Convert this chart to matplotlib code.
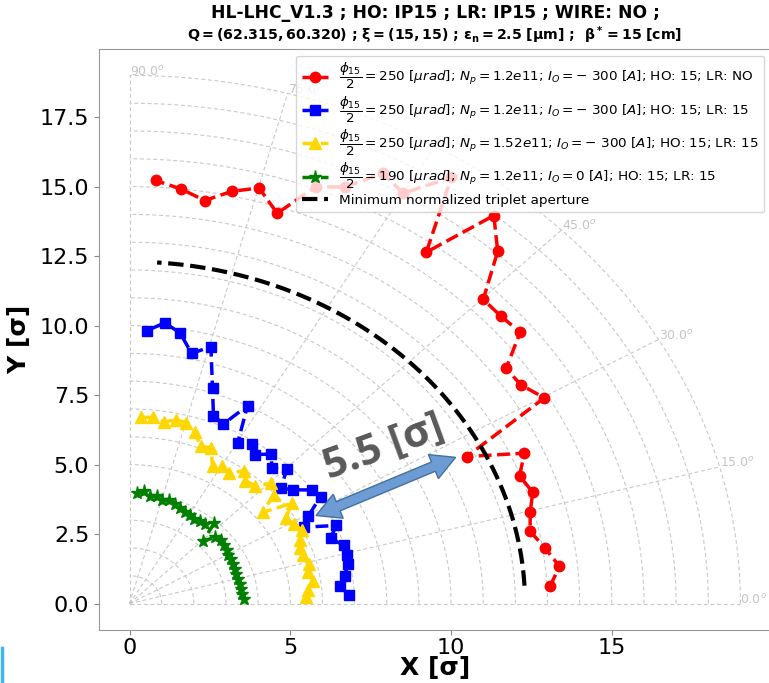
import numpy as np
import matplotlib
matplotlib.use("Agg")
import matplotlib.pyplot as plt
from matplotlib.patches import Polygon
from matplotlib.lines import Line2D

# ---------------- data: normalized DA contours, (x, y) in sigma ----------------
red_x = [13.08, 13.37, 12.92, 12.46, 12.46, 12.54, 12.13, 12.28, 10.49, 12.90,
         12.17, 11.71, 12.15, 11.55, 11.00, 11.45, 11.33, 9.23, 10.01, 8.51,
         7.88, 6.69, 5.80, 4.59, 4.03, 3.18, 2.34, 1.59, 0.81]
red_y = [0.62, 1.34, 2.00, 2.60, 3.28, 4.00, 4.60, 5.41, 5.29, 7.40,
         7.87, 8.46, 9.76, 10.34, 10.94, 12.67, 13.96, 12.64, 15.33, 14.76,
         15.48, 14.98, 15.00, 14.04, 14.95, 14.83, 14.50, 14.92, 15.22]

blue_x = [6.81, 6.53, 6.69, 6.79, 6.76, 6.66, 6.25, 6.43, 5.44, 5.56,
          5.94, 5.67, 5.09, 4.71, 4.89, 4.43, 4.40, 3.91, 3.80, 3.36,
          3.67, 2.92, 2.61, 2.58, 2.53, 1.93, 1.57, 1.09, 0.55]
blue_y = [0.32, 0.65, 1.01, 1.43, 1.73, 2.09, 2.36, 2.81, 2.75, 3.15,
          3.85, 4.09, 4.09, 4.16, 4.83, 4.88, 5.38, 5.36, 5.74, 5.77,
          7.12, 6.46, 6.76, 7.76, 9.24, 9.00, 9.74, 10.10, 9.82]

yellow_x = [5.49, 5.56, 5.70, 5.56, 5.59, 5.38, 5.30, 5.31, 5.36, 5.10,
            4.87, 5.04, 4.14, 4.48, 4.40, 3.91, 3.59, 3.55, 3.10, 2.89,
            2.58, 2.53, 2.21, 2.03, 1.77, 1.43, 1.07, 0.73, 0.36]
yellow_y = [0.25, 0.50, 0.83, 1.13, 1.43, 1.73, 2.00, 2.27, 2.65, 2.87,
            3.08, 3.61, 3.28, 3.92, 4.33, 4.24, 4.42, 4.78, 4.69, 4.96,
            4.96, 5.60, 5.66, 6.16, 6.50, 6.62, 6.52, 6.70, 6.70]

green_x = [3.57, 3.50, 3.46, 3.43, 3.37, 3.32, 3.27, 3.22, 3.17, 3.06,
           3.03, 2.94, 2.84, 2.67, 2.29, 2.63, 2.36, 2.18, 2.01, 1.87,
           1.71, 1.56, 1.40, 1.23, 1.02, 0.84, 0.63, 0.45, 0.23]
green_y = [0.17, 0.35, 0.53, 0.71, 0.88, 1.06, 1.24, 1.41, 1.60, 1.74,
           1.94, 2.11, 2.28, 2.38, 2.26, 2.89, 2.88, 2.97, 3.06, 3.19,
           3.31, 3.45, 3.59, 3.73, 3.72, 3.86, 3.87, 4.05, 3.97]

series_labels = [
    r'$\dfrac{\phi_{15}}{2} = 250\ [\mu rad]$; $N_p = 1.2e11$; $I_O = -\ 300\ [A]$; HO: 15; LR: NO',
    r'$\dfrac{\phi_{15}}{2} = 250\ [\mu rad]$; $N_p = 1.2e11$; $I_O = -\ 300\ [A]$; HO: 15; LR: 15',
    r'$\dfrac{\phi_{15}}{2} = 250\ [\mu rad]$; $N_p = 1.52e11$; $I_O = -\ 300\ [A]$; HO: 15; LR: 15',
    r'$\dfrac{\phi_{15}}{2} = 190\ [\mu rad]$; $N_p = 1.2e11$; $I_O = 0\ [A]$; HO: 15; LR: 15',
]
aperture_label = 'Minimum normalized triplet aperture'

# minimum triplet aperture (sigma) and the angular span it is drawn over (deg)
aperture_sigma = 12.3
aperture_angle_min, aperture_angle_max = 3.0, 86.0

# polar reference grid
grid_radii = list(range(1, 20))
grid_angles = [0, 15, 30, 45, 60, 75, 90]

x_ticks = [0, 5, 10, 15]
y_ticks = [0.0, 2.5, 5.0, 7.5, 10.0, 12.5, 15.0, 17.5]

title_line1 = 'HL-LHC_V1.3 ; HO: IP15 ; LR: IP15 ; WIRE: NO ;'
title_line2 = (r'$\mathbf{Q = (62.315, 60.320)}$ ; $\mathbf{ξ = (15, 15)}$ ; '
               r'$\mathbf{ε_n = 2.5\ [μm]}$ ;  $\mathbf{β^* = 15\ [cm]}$')

gap_text = '5.5 [σ]'
gap_from = (5.80, 3.17)
gap_to = (10.14, 5.26)

# ---------------- figure ----------------
W, H = 769, 683
fig = plt.figure(figsize=(W / 100, H / 100), dpi=100)
ax = fig.add_axes([99 / W, 53 / H, 672 / W, 581 / H])

rmax = grid_radii[-1]
grid_kw = dict(color='#c8c8c8', lw=0.8, ls=(0, (3.5, 2.5)), zorder=1)
t = np.linspace(0, np.pi / 2, 300)
for r in grid_radii:
    ax.plot(r * np.cos(t), r * np.sin(t), **grid_kw)
for a in grid_angles:
    ar = np.deg2rad(a)
    ax.plot([0, rmax * np.cos(ar)], [0, rmax * np.sin(ar)], **grid_kw)
    ax.text(rmax * np.cos(ar), rmax * np.sin(ar), f'{a:.1f}$^o$', color='#c4c4c4',
            fontsize=9, ha='left', va='baseline', zorder=1)

ax.plot(red_x, red_y, ls='--', color='red', marker='o', ms=7.5, lw=2.5,
        label=series_labels[0], zorder=3)
ax.plot(blue_x, blue_y, ls='--', color='blue', marker='s', ms=7, lw=2.5,
        label=series_labels[1], zorder=3)
ax.plot(yellow_x, yellow_y, ls='--', color='gold', marker='^', ms=8, lw=2.5,
        label=series_labels[2], zorder=3)
ax.plot(green_x, green_y, ls='--', color='green', marker='*', ms=9.5, lw=2.5,
        label=series_labels[3], zorder=3)

ta = np.deg2rad(np.linspace(aperture_angle_min, aperture_angle_max, 200))
ax.plot(aperture_sigma * np.cos(ta), aperture_sigma * np.sin(ta), ls='--',
        color='black', lw=3, label=aperture_label, zorder=3)

ax.set_xlim(-0.95, 19.95)
ax.set_ylim(-0.95, 19.95)
ax.set_xticks(x_ticks)
ax.set_yticks(y_ticks)
ax.set_yticklabels([f'{v:.1f}' for v in y_ticks])
ax.tick_params(labelsize=16, color='#888888')
ax.tick_params(axis='x', pad=2)
for s in ax.spines.values():
    s.set_color('#999999')

ax.set_xlabel('X [σ]', fontsize=18, fontweight='bold', labelpad=-1)
ax.set_ylabel('Y [σ]', fontsize=18, fontweight='bold', labelpad=6)

# two-line heading: run configuration, then beam parameters
cx = (99 + 771) / 2 / W
fig.text(cx, 1 - 13 / H, title_line1, fontsize=12.3, fontweight='bold',
         ha='center', va='center')
fig.text(cx, 1 - 35 / H, title_line2, fontsize=10.2, fontweight='bold',
         ha='center', va='center')

leg = ax.legend(loc='upper right', fontsize=9.7, framealpha=0.8, labelspacing=0.22)
leg.set_zorder(5)

# double-headed arrow marking the gap, built in pixel space
fig.canvas.draw()
p0 = ax.transData.transform(gap_from)
p1 = ax.transData.transform(gap_to)
d = p1 - p0
L = np.hypot(*d)
u = d / L
n = np.array([-u[1], u[0]])
sw, hw, hl = 5.0, 13.0, 24.0
pts = [p0,
       p0 + u * hl + n * hw, p0 + u * hl + n * sw,
       p1 - u * hl + n * sw, p1 - u * hl + n * hw,
       p1,
       p1 - u * hl - n * hw, p1 - u * hl - n * sw,
       p0 + u * hl - n * sw, p0 + u * hl - n * hw]
pts = ax.transData.inverted().transform(np.array(pts))
ax.add_patch(Polygon(pts, closed=True, facecolor='#6d9bd3', edgecolor='#41719c',
                     lw=1.0, zorder=4))

ax.text(7.92, 5.61, gap_text, rotation=20, rotation_mode='anchor', ha='center',
        va='center', fontsize=30, fontweight='bold', family='Open Sans',
        color='#595959', zorder=4)

fig.add_artist(Line2D([1.5 / W, 1.5 / W], [0, 35 / H], color='#3fb6e8', lw=2.5,
                      transform=fig.transFigure))

fig.savefig('out.png', dpi=100)
